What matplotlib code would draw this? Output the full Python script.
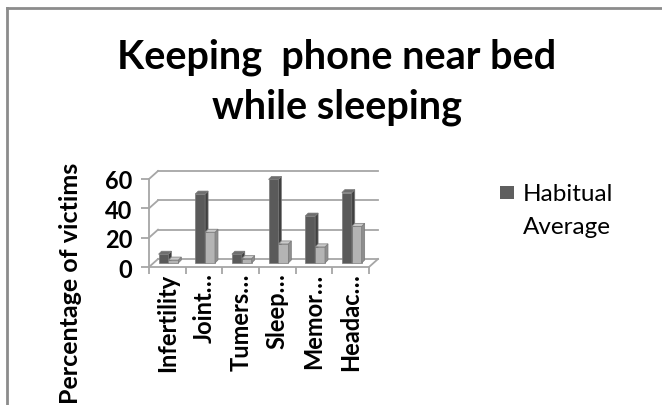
import matplotlib
matplotlib.use("Agg")
import matplotlib.pyplot as plt
from matplotlib.patches import Polygon
from matplotlib.lines import Line2D

categories = ["Infertility", "Joint\u2026", "Tumers\u2026", "Sleep\u2026", "Memor\u2026", "Headac\u2026"]
habitual = [6, 47, 6, 57, 32, 48]
average = [2, 21, 3, 13, 11, 25]
yticks = [0, 20, 40, 60]
title = "Keeping  phone near bed\nwhile sleeping"
ylabel = "Percentage of victims"
series_names = ["Habitual", "Average"]

W, H = 662, 406
fig = plt.figure(figsize=(W / 100, H / 100), dpi=100)
fig.patch.set_facecolor("white")

FONT = "Lato"
GRID = "#a6a6a6"

# plot box (front plane) in pixels
x0, x1 = 149, 369
y0, y1 = 268, 180
ax = fig.add_axes([x0 / W, (H - y0) / H, (x1 - x0) / W, (y0 - y1) / H])
n = len(categories)
ax.set_xlim(0, n)
ax.set_ylim(0, 60)
ax.set_facecolor("none")

pxx = (x1 - x0) / n
pxy = (y0 - y1) / 60.0
dx = 9 / pxx     # depth offset
dy = 8 / pxy

for s in ["top", "right"]:
    ax.spines[s].set_visible(False)
for s in ["left", "bottom"]:
    ax.spines[s].set_color(GRID)
    ax.spines[s].set_linewidth(1.3)

# back wall gridlines + left wall diagonals
for g in yticks:
    ax.add_line(Line2D([dx, n + dx], [g + dy, g + dy], color=GRID, lw=1.3, clip_on=False, zorder=1))
    ax.add_line(Line2D([0, dx], [g, g + dy], color=GRID, lw=1.3, clip_on=False, zorder=1))
ax.add_line(Line2D([n, n + dx], [0, dy], color=GRID, lw=1.3, clip_on=False, zorder=1))

ax.set_yticks(yticks)
ax.set_yticklabels([str(v) for v in yticks], fontfamily=FONT, fontweight="bold", fontsize=17)
ax.tick_params(axis="y", length=6, width=1.3, color=GRID, pad=6)
ax.set_xticks(range(n + 1))
ax.set_xticklabels([])
ax.tick_params(axis="x", which="major", length=5, width=1.3, color=GRID)
ax.set_xticks([i + 0.5 for i in range(n)], minor=True)
ax.set_xticklabels(categories, minor=True, rotation=90, fontfamily=FONT,
                   fontweight="bold", fontsize=17, va="top", ha="center")
ax.tick_params(axis="x", which="minor", length=0, pad=4)

# bars (pseudo-3D)
w = 0.27
oy = dy / 2
sdx = 3 / pxx
sdy = 3 / pxy
styles = [
    ("#5a5a5a", "#404040", "#6e6e6e", 0.26),
    ("#b4b4b4", "#8e8e8e", "#cacaca", 0.53),
]
for vals, (cf, cs, ct, off) in zip([habitual, average], styles):
    xs = [i + off for i in range(n)]
    ax.bar(xs, vals, width=w, bottom=oy, align="edge", color=cf,
           edgecolor="#7a7a7a", linewidth=0.5, clip_on=False, zorder=3)
    for xl, v in zip(xs, vals):
        xr = xl + w
        top = oy + v
        side = Polygon([(xr, oy), (xr + sdx, oy + sdy), (xr + sdx, top + sdy), (xr, top)],
                       closed=True, facecolor=cs, edgecolor="#7a7a7a", lw=0.5, clip_on=False, zorder=3)
        cap = Polygon([(xl, top), (xr, top), (xr + sdx, top + sdy), (xl + sdx, top + sdy)],
                      closed=True, facecolor=ct, edgecolor="#7a7a7a", lw=0.5, clip_on=False, zorder=3)
        ax.add_patch(side)
        ax.add_patch(cap)

# title
fig.text(337 / W, 1 - 38 / H, title, ha="center", va="top", fontfamily=FONT,
         fontweight="bold", fontsize=28.5, linespacing=1.42)

# y label
fig.text(70 / W, 1 - 163 / H, ylabel, rotation=90, ha="center", va="top",
         fontfamily=FONT, fontweight="bold", fontsize=18)

# legend
fig.patches.append(plt.Rectangle((500 / W, 1 - 200 / H), 14 / W, 13 / H,
                                 transform=fig.transFigure, facecolor="#5f5f5f",
                                 edgecolor="none"))
fig.text(523 / W, 1 - 201 / H, series_names[0], ha="left", va="baseline",
         fontfamily=FONT, fontsize=17.5)
fig.text(523 / W, 1 - 234 / H, series_names[1], ha="left", va="baseline",
         fontfamily=FONT, fontsize=17.5)

# chart border
bc = "#8c8c8c"
fig.add_artist(Line2D([7 / W, 1], [1 - 9 / H, 1 - 9 / H], transform=fig.transFigure, color=bc, lw=2))
fig.add_artist(Line2D([7 / W, 7 / W], [0, 1 - 9 / H], transform=fig.transFigure, color=bc, lw=2))

fig.savefig("out.png", dpi=100)
